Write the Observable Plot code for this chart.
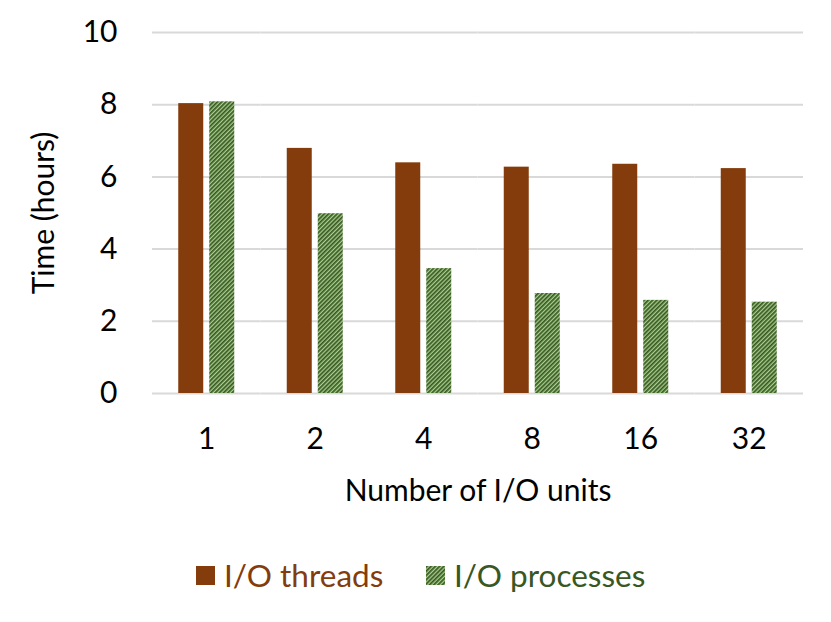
<!DOCTYPE html>
<html>
<head>
<meta charset="utf-8">
<script src="https://cdn.jsdelivr.net/npm/d3@7"></script>
<script src="https://cdn.jsdelivr.net/npm/@observablehq/plot@0.6"></script>
<style>
  html, body { margin: 0; padding: 0; background: #fff; }
  #chart { width: 831px; }
  .legend { position: relative; height: 92px; font-family: Lato, "Open Sans", sans-serif; font-size: 31.5px; }
  .legend .item { position: absolute; top: -1px; display: flex; align-items: center; height: 92px; }
  .legend svg { margin-right: 9px; }
</style>
</head>
<body>
<div id="chart"></div>
<script>
const units = ["1", "2", "4", "8", "16", "32"];
const seriesNames = ["I/O threads", "I/O processes"];
const threads = [8.03, 6.79, 6.39, 6.27, 6.35, 6.23];
const processes = [8.08, 4.98, 3.46, 2.77, 2.58, 2.53];
const yTicks = [0, 2, 4, 6, 8, 10];

const data = [];
units.forEach((u, i) => {
  data.push({units: u, series: seriesNames[0], value: threads[i]});
  data.push({units: u, series: seriesNames[1], value: processes[i]});
});

const brown = "#843C0C";
const darkGreen = "#385723";
const lightGreen = "#A9D18E";
const font = "Lato, 'Open Sans', sans-serif";

const svg = Plot.plot({
  width: 831,
  height: 530,
  marginLeft: 152,
  marginRight: 28,
  marginTop: 32,
  marginBottom: 137,
  style: {fontFamily: font, fontSize: "30px", color: "#000", background: "#fff"},
  fx: {domain: units, paddingInner: 0, paddingOuter: 0, round: false},
  x: {domain: seriesNames, paddingInner: 0.1935, paddingOuter: 0.8468, round: false, axis: null},
  y: {domain: [0, 10]},
  color: {domain: seriesNames, range: [brown, "url(#hatch)"]},
  marks: [
    Plot.gridY(yTicks, {stroke: "#d9d9d9", strokeOpacity: 1, strokeWidth: 2}),
    Plot.barY(data, {fx: "units", x: "series", y: "value", fill: "series"}),
    Plot.axisY(yTicks, {tickSize: 0, tickPadding: 35, fontSize: 30, label: "Time (hours)", labelAnchor: "center", labelOffset: 120, labelArrow: false}),
    Plot.axisFx({anchor: "bottom", tickSize: 0, tickPadding: 34, fontSize: 30, label: "Number of I/O units", labelAnchor: "center", labelOffset: 107, labelArrow: false})
  ]
});

const defs = d3.select(svg).insert("defs", ":first-child");
const pat = defs.append("pattern")
  .attr("id", "hatch").attr("patternUnits", "userSpaceOnUse")
  .attr("width", 3).attr("height", 3).attr("patternTransform", "rotate(45)");
pat.append("rect").attr("width", 3).attr("height", 3).attr("fill", lightGreen);
pat.append("rect").attr("width", 1.7).attr("height", 3).attr("fill", darkGreen);

document.getElementById("chart").appendChild(svg);

// Legend
const legend = d3.select("#chart").append("div").attr("class", "legend");
const items = [
  {name: seriesNames[0], left: 196, color: brown, fill: brown},
  {name: seriesNames[1], left: 426, color: darkGreen, fill: "url(#hatchLegend)"}
];
items.forEach((it, k) => {
  const d = legend.append("div").attr("class", "item").style("left", it.left + "px").style("color", it.color);
  const s = d.append("svg").attr("width", 19).attr("height", 19);
  if (k === 1) {
    const p = s.append("defs").append("pattern")
      .attr("id", "hatchLegend").attr("patternUnits", "userSpaceOnUse")
      .attr("width", 3).attr("height", 3).attr("patternTransform", "rotate(45)");
    p.append("rect").attr("width", 3).attr("height", 3).attr("fill", lightGreen);
    p.append("rect").attr("width", 1.7).attr("height", 3).attr("fill", darkGreen);
  }
  s.append("rect").attr("width", 19).attr("height", 19).attr("fill", it.fill);
  d.append("span").text(it.name);
});
</script>
</body>
</html>
